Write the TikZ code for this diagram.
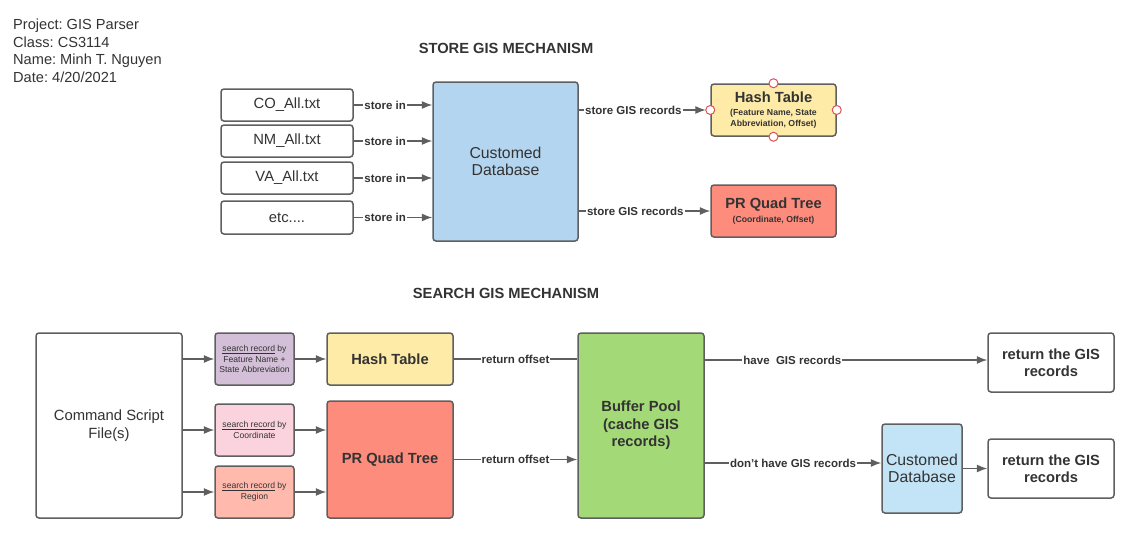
\documentclass[tikz,border=0pt]{standalone}
\usepackage{fontspec}
\setmainfont{Liberation Sans}
\usetikzlibrary{arrows.meta,positioning}
\frenchspacing
\definecolor{edgegray}{HTML}{5F5F5F}
\definecolor{inkgray}{HTML}{333333}
\definecolor{dbblue}{HTML}{B4D5EF}
\definecolor{dbblueb}{HTML}{C3E4F6}
\definecolor{htyellow}{HTML}{FFEBA8}
\definecolor{qtred}{HTML}{FE8C7D}
\definecolor{bpgreen}{HTML}{A4D978}
\definecolor{srpurple}{HTML}{D3BFD7}
\definecolor{srpink}{HTML}{FAD3DF}
\definecolor{srsalmon}{HTML}{FFB9AD}
\definecolor{portred}{HTML}{E0505A}

\begin{document}
\begin{tikzpicture}[x=1pt,y=1pt,>={Latex[length=10.5pt,width=8pt]},
  box/.style={draw=edgegray,line width=1.5pt,rounded corners=3pt,fill=white,text=inkgray,
              align=center,inner sep=0pt,font=\fontsize{14.8}{17.5}\selectfont},
  bbox/.style={box,font=\bfseries\fontsize{14.7}{17.5}\selectfont},
  dbase/.style={box,fill=dbblue,font=\fontsize{15.8}{17.5}\selectfont},
  small/.style={box,minimum width=79pt,minimum height=52pt,font=\fontsize{8.6}{10.8}\selectfont},
  flow/.style={->,draw=edgegray,line width=1.2pt},
  tag/.style={fill=white,inner sep=1pt,text=inkgray,font=\bfseries\fontsize{11.5}{13}\selectfont},
  title/.style={text=inkgray,font=\bfseries\fontsize{14.7}{17}\selectfont},
  port/.style={circle,draw=portred,fill=white,line width=1pt,minimum size=9pt,inner sep=0pt}]
  \useasboundingbox (0,0) rectangle (1139,-533);

  \node[anchor=north west,align=left,inner sep=0pt,text=inkgray,font=\fontsize{14.6}{17.5}\selectfont] (info) at (13,-19)
    {Project: GIS Parser\\Class: CS3114\\Name: Minh T. Nguyen\\Date: 4/20/2021};

  \node[title] (ttla) at (506,-48) {STORE GIS MECHANISM};
  \node[box,minimum width=132pt,minimum height=32pt] (co) at (287,-105) {CO\_All.txt};
  \node[box,minimum width=132pt,minimum height=32pt,below=2.5pt of co] (nm) {NM\_All.txt};
  \node[box,minimum width=132pt,minimum height=32pt,below=3.5pt of nm] (va) {VA\_All.txt};
  \node[box,minimum width=132pt,minimum height=33pt,below=5.5pt of va] (more) {etc....};
  \node[dbase,minimum width=145pt,minimum height=159pt] (db) at (505.5,-161.5) {Customed\\Database};
  \node[bbox,fill=htyellow,minimum width=125pt,minimum height=52pt] (hta) at (773.5,-110)
    {Hash Table\\[-4.5pt]\parbox[t]{118pt}{\centering\fontsize{8.7}{10.5}\selectfont (Feature Name, State\\Abbreviation, Offset)}};
  \node[bbox,fill=qtred,minimum width=125pt,minimum height=52pt] (qta) at (773.5,-211)
    {PR Quad Tree\\[-4pt]\parbox[t]{118pt}{\centering\fontsize{8.7}{10.5}\selectfont (Coordinate, Offset)}};
  \foreach \side in {north,south,east,west}
    \node[port] at (hta.\side) {};

  \foreach \src in {co,nm,va,more}
    \draw[flow] (\src.east) -- node[tag,pos=0.4] {store in} (\src.east -| db.west);
  \draw[flow] (db.east |- hta.west) -- node[tag,pos=0.43] {store GIS records} ([xshift=-4.5pt]hta.west);
  \draw[flow] (db.east |- qta.west) -- node[tag,pos=0.43] {store GIS records} (qta.west);

  \node[title] (ttlb) at (506,-293) {SEARCH GIS MECHANISM};
  \node[box,minimum width=146pt,minimum height=185pt] (cmd) at (109,-425.5) {Command Script\\File(s)};
  \node[small,fill=srpurple] (sfn) at (254.5,-359) {\underline{search record} by\\Feature Name +\\State Abbreviation};
  \node[small,fill=srpink] (sco) at (254.5,-430) {\underline{search record} by\\Coordinate};
  \node[small,fill=srsalmon] (srg) at (254.5,-492) {\underline{search record} by\\Region};
  \node[bbox,fill=htyellow,minimum width=126pt,minimum height=52pt] (htb) at (390,-359) {Hash Table};
  \node[bbox,fill=qtred,minimum width=126pt,minimum height=117pt] (qtb) at (390,-459.5) {PR Quad Tree};
  \node[bbox,fill=bpgreen,minimum width=126pt,minimum height=185pt] (bp) at (641,-425.5)
    {Buffer Pool\\(cache GIS\\records)};
  \node[bbox,minimum width=126pt,minimum height=59pt] (reta) at (1051,-362.5) {return the GIS\\records};
  \node[dbase,fill=dbblueb,minimum width=80pt,minimum height=89pt] (dbb) at (922,-468.5) {Customed\\Database};
  \node[bbox,minimum width=126pt,minimum height=59pt] (retb) at (1051,-468.5) {return the GIS\\records};

  \foreach \dst in {sfn,sco,srg}
    \draw[flow] (cmd.east |- \dst.west) -- (\dst.west);
  \draw[flow] (sfn) -- (htb);
  \draw[flow] (sco.east) -- (sco.east -| qtb.west);
  \draw[flow] (srg.east) -- (srg.east -| qtb.west);
  \draw[draw=edgegray,line width=1.2pt] (htb.east) -- node[tag] {return offset} (htb.east -| bp.west);
  \draw[flow] (qtb.east) -- node[tag] {return offset} (qtb.east -| bp.west);
  \draw[flow] ([yshift=2.5pt]bp.east |- reta.west) -- node[tag,pos=0.31] {have~~GIS records} ([yshift=2.5pt]reta.west);
  \draw[flow] ([yshift=5.5pt]bp.east |- dbb.west) -- node[tag] {don't have GIS records} ([yshift=5.5pt]dbb.west);
  \draw[flow] (dbb) -- (retb);
\end{tikzpicture}
\end{document}
